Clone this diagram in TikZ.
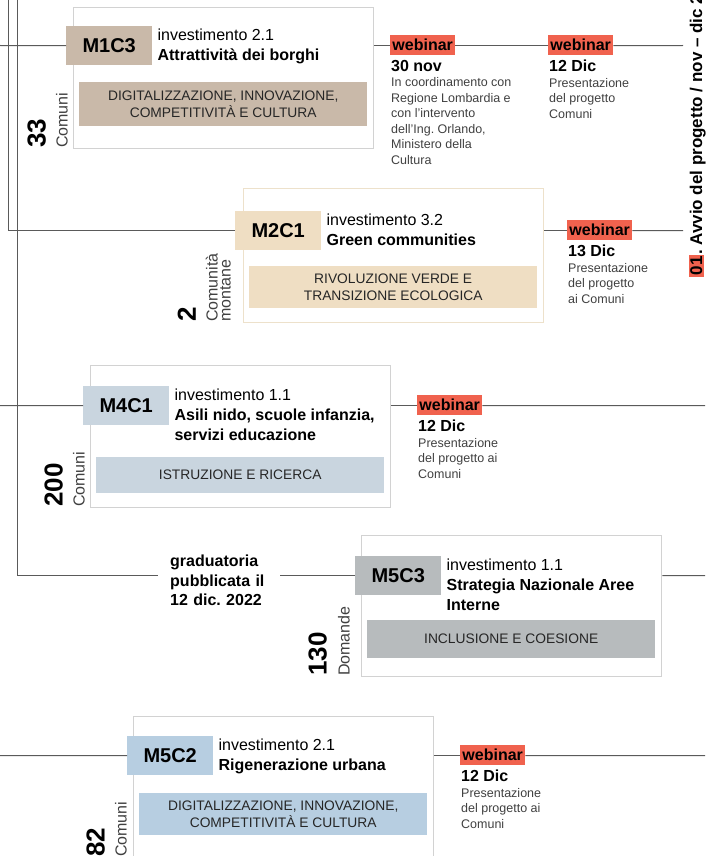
\documentclass[tikz,border=0pt]{standalone}
\usepackage{fontspec}
\setmainfont{Liberation Sans}
\usetikzlibrary{positioning}
\frenchspacing
\definecolor{linegray}{HTML}{5A5A5A}
\definecolor{boxline}{HTML}{D2D2D2}
\definecolor{m2line}{HTML}{EDE1CB}
\definecolor{m1c3}{HTML}{C9B9A9}
\definecolor{m2c1}{HTML}{EFDEC3}
\definecolor{m4c1}{HTML}{C9D5DF}
\definecolor{m5c3}{HTML}{B7BBBD}
\definecolor{m5c2}{HTML}{B7CEE1}
\definecolor{webred}{HTML}{F0624E}
\setlength\fboxsep{1.5pt}
\newcommand\tagfont{\fontsize{20}{20}\selectfont\bfseries}
\newcommand\titfont{\fontsize{16}{20}\selectfont}
\newcommand\bandfont{\fontsize{13.8}{17.5}\selectfont}
\newcommand\webfont{\fontsize{16}{16}\selectfont\bfseries}
\newcommand\notefont{\fontsize{12.5}{15.5}\selectfont}
\newcommand\cntfont{\fontsize{26}{26}\selectfont\bfseries}
\newcommand\labfont{\fontsize{16}{13}\selectfont}
\newcommand\gradfont{\fontsize{16}{19.5}\selectfont\bfseries}
\newcommand\headfont{\fontsize{17}{17}\selectfont\bfseries}
\tikzset{
  box/.style={draw=#1, line width=1.3pt, minimum width=300pt, anchor=north west, inner sep=0},
  tagbox/.style={fill=#1, minimum width=86pt, minimum height=39pt, anchor=north west, inner sep=0, font=\tagfont},
  band/.style={fill=#1, minimum width=288pt, anchor=north west, inner sep=0, align=center, font=\bandfont, text=black!85},
  title/.style={anchor=north west, inner sep=0, align=left, font=\titfont},
  web/.style={fill=webred, minimum width=65pt, minimum height=20pt, inner sep=0, anchor=north west, font=\webfont},
  date/.style={anchor=north west, inner sep=0, font=\webfont},
  note/.style={anchor=north west, inner sep=0, align=left, font=\notefont, text=black!75},
  count/.style={rotate=90, anchor=south west, inner sep=0, font=\cntfont},
  countlab/.style={rotate=90, anchor=south west, inner sep=0, align=left, font=\labfont, text=black!75},
  grad/.style={anchor=west, inner xsep=12pt, inner ysep=0, text width=98pt, align=left, font=\gradfont},
  head/.style={rotate=90, anchor=base west, inner sep=0, font=\headfont},
  line/.style={draw=linegray, line width=1pt},
}
\begin{document}
\begin{tikzpicture}[x=1pt,y=-1pt]
\useasboundingbox (0,0) rectangle (705,856);
\clip (0,0) rectangle (705,856);
% cornici
\node[box=boxline, minimum height=141pt] (b1) at (73,7) {};
\node[box=m2line, minimum height=134pt] (b2) at (243,188) {};
\node[box=boxline, minimum height=142pt] (b3) at (90,365) {};
\node[box=boxline, minimum height=141pt] (b4) at (361,535) {};
\node[box=boxline, minimum height=141pt] (b5) at (133,716) {};
% sigle
\node[tagbox=m1c3] (t1) at (66,26) {M1C3};
\node[tagbox=m2c1] (t2) at (235,211) {M2C1};
\node[tagbox=m4c1] (t3) at (83,386) {M4C1};
\node[tagbox=m5c3] (t4) at (355,556) {M5C3};
\node[tagbox=m5c2] (t5) at (127,736) {M5C2};
% titoli
\node[title] (s1) at ([shift={(5,3)}]t1.north east) {investimento 2.1\\\textbf{Attrattività dei borghi}};
\node[title] (s2) at ([shift={(5,3)}]t2.north east) {investimento 3.2\\\textbf{Green communities}};
\node[title] (s3) at ([shift={(5,3)}]t3.north east) {investimento 1.1\\\textbf{Asili nido, scuole infanzia,}\\\textbf{servizi educazione}};
\node[title] (s4) at ([shift={(5,3)}]t4.north east) {investimento 1.1\\\textbf{Strategia Nazionale Aree}\\\textbf{Interne}};
\node[title] (s5) at ([shift={(5,3)}]t5.north east) {investimento 2.1\\\textbf{Rigenerazione urbana}};
% missioni
\node[band=m1c3, minimum height=44pt] (k1) at (79,82) {DIGITALIZZAZIONE, INNOVAZIONE,\\COMPETITIVITÀ E CULTURA};
\node[band=m2c1, minimum height=42pt] (k2) at (249,266) {RIVOLUZIONE VERDE E\\TRANSIZIONE ECOLOGICA};
\node[band=m4c1, minimum height=36pt] (k3) at (96,457) {ISTRUZIONE E RICERCA};
\node[band=m5c3, minimum height=38pt] (k4) at (367,620) {INCLUSIONE E COESIONE};
\node[band=m5c2, minimum height=42pt] (k5) at (139,793) {DIGITALIZZAZIONE, INNOVAZIONE,\\COMPETITIVITÀ E CULTURA};
% numeri
\node[count] (n1) at (46,148) {33};
\node[countlab] (c1) at (68,148) {Comuni};
\node[count] (n2) at (196,322) {2};
\node[countlab] (c2) at (231,322) {Comunità\\montane};
\node[count] (n3) at (63,507) {200};
\node[countlab] (c3) at (85,507) {Comuni};
\node[count] (n4) at (327,676) {130};
\node[countlab] (c4) at (350,676) {Domande};
\node[count] (n5) at (105,857) {82};
\node[countlab] (c5) at (127,857) {Comuni};
% webinar
\node[web] (w1) at (390,34.5) {webinar};
\node[date] (w1d) at ([shift={(1,5)}]w1.south west) {30 nov};
\node[note] (w1n) at ([shift={(0,6)}]w1d.south west) {In coordinamento con\\Regione Lombardia e\\con l'intervento\\dell'Ing. Orlando,\\Ministero della\\Cultura};
\node[web] (w2) at (548,34.5) {webinar};
\node[date] (w2d) at ([shift={(1,5)}]w2.south west) {12 Dic};
\node[note] (w2n) at ([shift={(0,6)}]w2d.south west) {Presentazione\\del progetto\\Comuni};
\node[web] (w3) at (567,219.5) {webinar};
\node[date] (w3d) at ([shift={(1,5)}]w3.south west) {13 Dic};
\node[note] (w3n) at ([shift={(0,6)}]w3d.south west) {Presentazione\\del progetto\\ai Comuni};
\node[web] (w4) at (417,394.5) {webinar};
\node[date] (w4d) at ([shift={(1,5)}]w4.south west) {12 Dic};
\node[note] (w4n) at ([shift={(0,6)}]w4d.south west) {Presentazione\\del progetto ai\\Comuni};
\node[web] (w5) at (460,744.5) {webinar};
\node[date] (w5d) at ([shift={(1,5)}]w5.south west) {12 Dic};
\node[note] (w5n) at ([shift={(0,6)}]w5d.south west) {Presentazione\\del progetto ai\\Comuni};
\node[grad] (g) at (158,580.5) {graduatoria pubblicata il 12 dic. 2022};
\node[head] (hd) at (702,277) {\colorbox{webred}{01}. Avvio del progetto / nov -- dic 2022};
% linee
\coordinate (v1) at (8,0);
\coordinate (v2) at (17,0);
\coordinate (a1) at (0,45.5);
\coordinate (a3) at (0,405.5);
\coordinate (a5) at (0,755.5);
\coordinate (r1) at (683,45.5);
\coordinate (r2) at (683,230.5);
\coordinate (r3) at (705,405.5);
\coordinate (r4) at (705,575.5);
\coordinate (r5) at (705,755.5);
\draw[line] (a1) -- (t1.west);
\draw[line] (v1) |- (t2.west);
\draw[line] (a3) -- (t3.west);
\draw[line] (v2) |- (g.west |- t4.west);
\draw[line] (g.east |- t4.west) -- (t4.west);
\draw[line] (a5) -- (t5.west);
\draw[line] (t1 -| b1.east) -- (w1.west |- t1);
\draw[line] (w1.east |- t1) -- (w2.west |- t1);
\draw[line] (w2.east |- t1) -- (r1);
\draw[line] (t2 -| b2.east) -- (w3.west |- t2);
\draw[line] (w3.east |- t2) -- (r2);
\draw[line] (t3 -| b3.east) -- (w4.west |- t3);
\draw[line] (w4.east |- t3) -- (r3);
\draw[line] (t4 -| b4.east) -- (r4);
\draw[line] (t5 -| b5.east) -- (w5.west |- t5);
\draw[line] (w5.east |- t5) -- (r5);
\end{tikzpicture}
\end{document}
